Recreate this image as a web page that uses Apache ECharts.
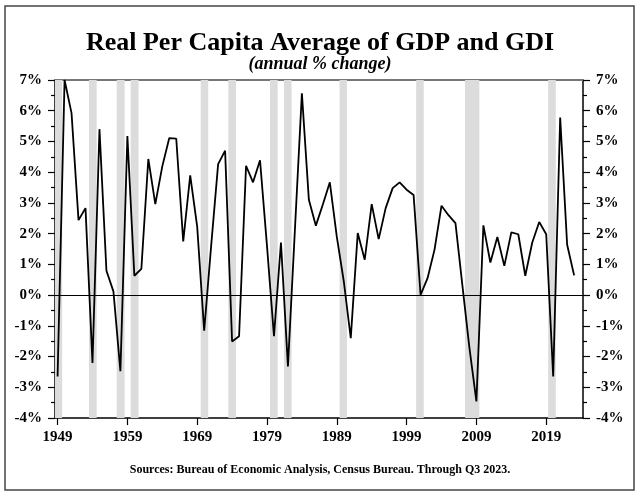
<!DOCTYPE html>
<html>
<head>
<meta charset="utf-8">
<script src="https://cdn.jsdelivr.net/npm/echarts@6/dist/echarts.min.js"></script>
<style>html,body{margin:0;padding:0;background:#fff;}#c{width:640px;height:496px;}</style>
</head>
<body>
<div id="c"></div>
<script>
var years = [];
for (var y = 1949; y <= 2023; y++) years.push(y);
var growth = [
  -2.65, 7.0, 5.92, 2.44, 2.83, -2.21, 5.40, 0.79, 0.12, -2.48,
  5.18, 0.63, 0.85, 4.43, 2.96, 4.19, 5.11, 5.09, 1.75, 3.90,
  2.23, -1.16, 1.60, 4.26, 4.70, -1.51, -1.34, 4.21, 3.67, 4.39,
  1.60, -1.34, 1.71, -2.32, 2.13, 6.57, 3.10, 2.26, 2.95, 3.67,
  1.90, 0.45, -1.40, 2.02, 1.15, 2.96, 1.82, 2.83, 3.48, 3.67,
  3.43, 3.26, 0.01, 0.55, 1.48, 2.91, 2.60, 2.34, 0.30, -1.72,
  -3.46, 2.27, 1.06, 1.89, 0.95, 2.04, 1.98, 0.63, 1.71, 2.38,
  1.98, -2.65, 5.78, 1.64, 0.64
];
var recessionStart = [1948.63, 1953.5, 1957.47, 1959.47, 1969.5, 1973.46, 1979.43, 1981.43, 1989.4, 2000.37, 2007.37, 2019.28];
var recessionEnd   = [1949.66, 1954.6, 1958.6, 1960.6, 1970.58, 1974.56, 1980.53, 1982.52, 1990.46, 2001.45, 2009.42, 2020.37];
var xTickYears = [1949, 1959, 1969, 1979, 1989, 1999, 2009, 2019];

var serif = "'Liberation Serif', 'DejaVu Serif', serif";
var chart = echarts.init(document.getElementById('c'), null, {renderer: 'canvas'});
var lineData = years.map(function (yr, i) { return [yr, growth[i]]; });
var bands = recessionStart.map(function (s, i) { return [{xAxis: s}, {xAxis: recessionEnd[i]}]; });

var yAxisCommon = {
  type: 'value', min: -4, max: 7, interval: 1,
  axisLine: {show: true, onZero: false, lineStyle: {color: '#000', width: 1.5}},
  axisTick: {show: true, length: 7, lineStyle: {color: '#000', width: 1.2}},
  minorTick: {show: true, splitNumber: 2, length: 4, lineStyle: {color: '#000', width: 1.2}},
  splitLine: {show: false},
  axisLabel: {formatter: '{value}%', fontFamily: serif, fontWeight: 'bold', fontSize: 15, color: '#000', margin: 13}
};

chart.setOption({
  animation: false,
  backgroundColor: '#fff',
  title: [
    {text: 'Real Per Capita Average of GDP and GDI', left: 'center', top: 25,
     textStyle: {fontFamily: serif, fontWeight: 'bold', fontSize: 26, color: '#000'}},
    {text: '(annual % change)', left: 'center', top: 50,
     textStyle: {fontFamily: serif, fontWeight: 'bold', fontStyle: 'italic', fontSize: 18, color: '#000'}},
    {text: 'Sources: Bureau of Economic Analysis, Census Bureau. Through Q3 2023.', left: 'center', top: 459,
     textStyle: {fontFamily: serif, fontWeight: 'bold', fontSize: 12, color: '#000'}}
  ],
  graphic: [{
    type: 'rect', shape: {x: 5, y: 6, width: 629, height: 484},
    style: {fill: null, stroke: '#444', lineWidth: 1.5}, silent: true, z: -1
  }],
  grid: {left: 55, right: 57, top: 80, bottom: 78},
  xAxis: [{
    type: 'value', min: 1948.63, max: 2024.27, position: 'bottom',
    axisLine: {show: true, onZero: false, lineStyle: {color: '#000', width: 1.5}},
    axisTick: {show: true, length: 7, customValues: xTickYears, lineStyle: {color: '#000', width: 1.2}},
    axisLabel: {customValues: xTickYears, fontFamily: serif, fontWeight: 'bold', fontSize: 15, color: '#000', margin: 12,
      formatter: function (v) { return String(Math.round(v)); }},
    splitLine: {show: false}
  }, {
    type: 'value', min: 1948.63, max: 2024.27, position: 'top',
    axisLine: {show: true, onZero: false, lineStyle: {color: '#777', width: 2}},
    axisTick: {show: false}, axisLabel: {show: false}, splitLine: {show: false}
  }],
  yAxis: [
    Object.assign({position: 'left'}, yAxisCommon),
    Object.assign({position: 'right'}, yAxisCommon)
  ],
  series: [{
    type: 'line', data: lineData, xAxisIndex: 0, yAxisIndex: 0,
    showSymbol: false, symbol: 'none',
    lineStyle: {color: '#000', width: 1.8}, z: 5,
    markArea: {silent: true, itemStyle: {color: '#dcdcdc'}, data: bands, z: 1},
    markLine: {silent: true, symbol: 'none', label: {show: false},
      lineStyle: {color: '#000', width: 1, type: 'solid'}, data: [{yAxis: 0}]}
  }]
});
</script>
</body>
</html>
